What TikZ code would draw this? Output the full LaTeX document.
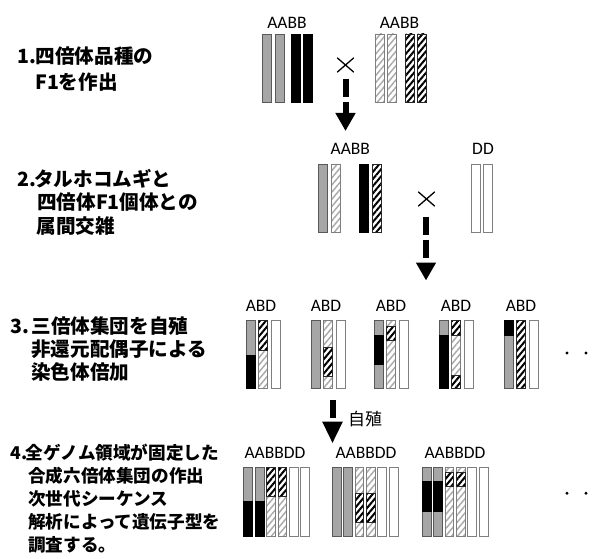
\documentclass[tikz,border=0pt]{standalone}
\usepackage{fontspec}
\newfontfamily\jp{Noto Sans CJK JP}
\newfontfamily\lab{Carlito}
\usetikzlibrary{patterns.meta,arrows.meta}
\definecolor{chrGray}{HTML}{A6A6A6}
\definecolor{chrEdge}{HTML}{595959}
\definecolor{hatchGray}{HTML}{ABABAB}
\definecolor{edgeGray}{HTML}{7F7F7F}
\newcommand\bw{9}
\newcommand\sg[4]{\draw[#1] (#2,#3) rectangle ({#2+\bw},#4);}
\begin{document}
\begin{tikzpicture}[x=1pt,y=-1pt,
  gA/.style={fill=chrGray,draw=chrEdge,line width=0.9pt},
  bA/.style={fill=black,draw=black,line width=0.9pt},
  hL/.style={pattern={Lines[angle=50,distance=4.6pt,line width=1.5pt]},pattern color=hatchGray,draw=edgeGray,line width=0.9pt},
  hD/.style={pattern={Lines[angle=50,distance=4.6pt,line width=2pt]},pattern color=black,draw=black!85,line width=0.9pt},
  wD/.style={fill=white,draw=edgeGray,line width=0.9pt},
  jptxt/.style={anchor=base west,inner sep=0pt,font=\jp\bfseries\fontsize{19.6}{23}\selectfont},
  jptxts/.style={anchor=base west,inner sep=0pt,font=\jp\bfseries\fontsize{17.6}{21}\selectfont},
  genome/.style={anchor=base,inner sep=0pt,font=\lab\fontsize{17.5}{20}\selectfont},
  bigarrow/.style={line width=6pt,dash pattern=on 18pt off 5pt,-{Triangle[width=19pt,length=18pt]}},
  crossmark/.style={line width=1.3pt},
  dotmark/.style={fill=black}]
\useasboundingbox (0,0) rectangle (600,559);

% ---- step texts ----
\node[jptxt] (n1) at (17,63.2) {1.};
\node[jptxt] (t1a) at (35.5,63.2) {四倍体品種の};
\node[jptxt] (t1b) at (35,89.1) {F1を作出};
\node[jptxt] (n2) at (17,186.4) {2.};
\node[jptxt] (t2a) at (34,186.4) {タルホコムギと};
\node[jptxt] (t2b) at (37,209.7) {四倍体F1個体との};
\node[jptxt] (t2c) at (36.5,233.1) {属間交雑};
\node[jptxt] (n3) at (10.5,333.1) {3.};
\node[jptxt] (t3a) at (31.3,333.1) {三倍体集団を自殖};
\node[jptxt] (t3b) at (31,356.4) {非還元配偶子による};
\node[jptxt] (t3c) at (31,379.9) {染色体倍加};
\node[jptxts] (n4) at (10.5,459) {4.};
\node[jptxts] (t4a) at (25.7,459) {全ゲノム領域が固定した};
\node[jptxts] (t4b) at (28,482.4) {合成六倍体集団の作出};
\node[jptxts] (t4c) at (28,505.7) {次世代シーケンス};
\node[jptxts] (t4d) at (28,528.4) {解析によって遺伝子型を};
\node[jptxts] (t4e) at (28,551.7) {調査する。};

% ---- genome labels ----
\node[genome] (g1a) at (287,28.3) {AABB};
\node[genome] (g1b) at (399.5,28.3) {AABB};
\node[genome] (g2a) at (350.3,155) {AABB};
\node[genome] (g2b) at (483,155) {DD};
\node[genome] (g3a) at (261,311.7) {ABD};
\node[genome] (g3b) at (326,311.7) {ABD};
\node[genome] (g3c) at (391,311.7) {ABD};
\node[genome] (g3d) at (456,311.7) {ABD};
\node[genome] (g3e) at (521,311.7) {ABD};
\node[genome] (g4a) at (275,458.3) {AABBDD};
\node[genome] (g4b) at (366,458.3) {AABBDD};
\node[genome] (g4c) at (455,458.3) {AABBDD};

% ---- row 1 ----
\sg{gA}{262.5}{34}{102}
\sg{gA}{275}{34}{102}
\sg{bA}{291.2}{34}{102}
\sg{bA}{303.8}{34}{102}
\sg{hL}{375.8}{34}{102}
\sg{hL}{387.8}{34}{102}
\sg{hD}{405.8}{34}{102}
\sg{hD}{417.8}{34}{102}

% ---- row 2 ----
\sg{gA}{318.2}{164.5}{232.2}
\sg{hL}{331.2}{164.5}{232.2}
\sg{bA}{359.5}{164.5}{232.2}
\sg{hD}{372.2}{164.5}{232.2}
\sg{wD}{471.5}{164.5}{232.2}
\sg{wD}{483.5}{164.5}{232.2}

% ---- row 3 ----
% group 1
\sg{gA}{246.5}{320.5}{355}
\sg{bA}{246.5}{355}{388.5}
\sg{hL}{258.8}{350.7}{388.5}
\sg{hD}{258.8}{320.5}{350.7}
\sg{wD}{271.5}{320.5}{388.5}
% group 2
\sg{gA}{311.5}{320.5}{388.5}
\sg{hL}{323.8}{320.5}{388.5}
\sg{hD}{323.8}{347.3}{376}
\sg{wD}{336.5}{320.5}{388.5}
% group 3
\sg{gA}{374.5}{320.5}{388.5}
\sg{bA}{374.5}{335}{364}
\sg{hL}{386.8}{320.5}{388.5}
\sg{hD}{386.8}{326}{340}
\sg{wD}{399.5}{320.5}{388.5}
% group 4
\sg{gA}{439.5}{320.5}{335}
\sg{bA}{439.5}{335}{388.5}
\sg{hL}{451.8}{320.5}{388.5}
\sg{hD}{451.8}{320.5}{335}
\sg{hD}{451.8}{375}{388.5}
\sg{wD}{464.5}{320.5}{388.5}
% group 5
\sg{gA}{504.5}{320.5}{388.5}
\sg{bA}{504.5}{320.5}{335.7}
\sg{hD}{516.8}{320.5}{388.5}
\sg{wD}{529.5}{320.5}{388.5}

% ---- row 4 ----
\renewcommand\bw{8.8}
% group 1
\foreach \x in {243.8,255.2}{\sg{gA}{\x}{467.2}{501}\sg{bA}{\x}{501}{536.8}}
\foreach \x in {266.6,278.0}{\sg{hL}{\x}{496.7}{536.8}\sg{hD}{\x}{467.2}{496.7}}
\foreach \x in {289.4,300.8}{\sg{wD}{\x}{467.2}{536.8}}
% group 2
\foreach \x in {332.2,343.6}{\sg{gA}{\x}{467.2}{536.8}}
\foreach \x in {355.0,366.4}{\sg{hL}{\x}{467.2}{536.8}\sg{hD}{\x}{493.3}{522.3}}
\foreach \x in {377.8,389.2}{\sg{wD}{\x}{467.2}{536.8}}
% group 3
\foreach \x in {422.2,433.6}{\sg{gA}{\x}{467.2}{536.8}\sg{bA}{\x}{481.7}{511}}
\foreach \x in {445.0,456.4}{\sg{hL}{\x}{467.2}{536.8}\sg{hD}{\x}{472.3}{486.7}}
\foreach \x in {467.8,479.2}{\sg{wD}{\x}{467.2}{536.8}}

% ---- cross marks ----
\coordinate (x1) at (345.5,65);
\coordinate (x2) at (426.5,199);
\foreach \c in {x1,x2}{
  \draw[crossmark] ([shift={(-8.3,-7.2)}]\c) -- ([shift={(8.3,7.2)}]\c);
  \draw[crossmark] ([shift={(-8.3,7.2)}]\c) -- ([shift={(8.3,-7.2)}]\c);
}

% ---- arrows ----
\coordinate (a1s) at (345.5,79);
\coordinate (a1e) at (345.5,131);
\coordinate (a2s) at (426,216.7);
\coordinate (a2e) at (426,280.5);
\coordinate (a3s) at (332.5,400);
\coordinate (a3e) at (332.5,443.5);
\draw[bigarrow] (a1s) -- (a1e);
\draw[bigarrow] (a2s) -- (a2e);
\draw[bigarrow,-{Triangle[width=19pt,length=22pt]}] (a3s) -- (a3e);
\node[anchor=base west,inner sep=0pt,font=\jp\fontsize{17}{20}\selectfont] (selfing) at (348,425.5) {自殖};

% ---- continuation dots ----
\fill[dotmark] (567,353) circle (1.6pt);
\fill[dotmark] (586,353) circle (1.6pt);
\fill[dotmark] (567,493.3) circle (1.6pt);
\fill[dotmark] (586,493.3) circle (1.6pt);
\end{tikzpicture}
\end{document}
